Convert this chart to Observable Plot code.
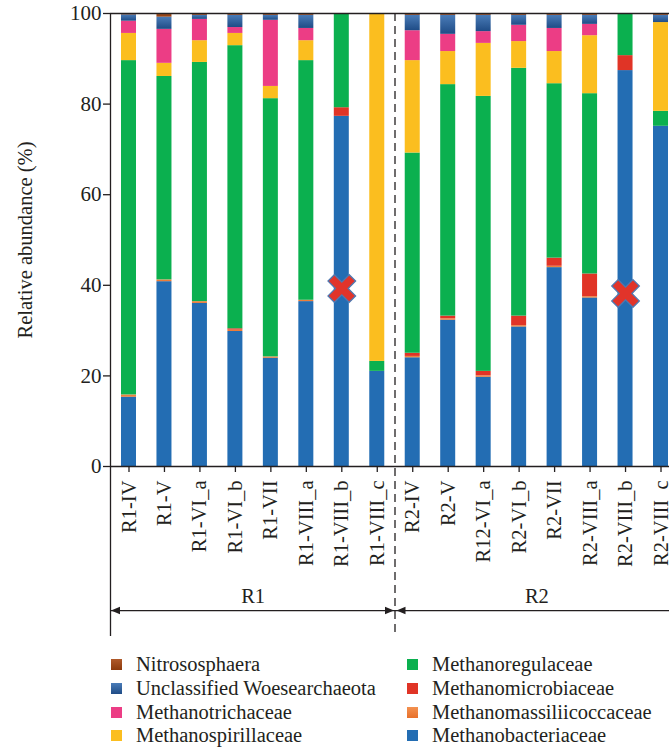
<!DOCTYPE html>
<html><head><meta charset="utf-8">
<script src="https://cdn.jsdelivr.net/npm/d3@7"></script>
<script src="https://cdn.jsdelivr.net/npm/@observablehq/plot@0.6"></script>
<style>
html,body{margin:0;padding:0;background:#fff;overflow:hidden;width:669px;height:748px;position:relative}
#chart svg{display:block;max-width:none !important;width:680px !important;height:650px !important}
.lg{position:absolute;font-family:"Liberation Serif",serif;font-size:20.5px;color:#231f20;line-height:24px;white-space:nowrap}
.lg .sw{position:absolute;left:0;top:6.5px;width:11px;height:11px}
.lg .tx{position:absolute;left:25px;top:0}
</style></head>
<body><div id="chart"></div><div id="legend"></div>
<script>
// ---- data ----
const samples = ["R1-IV","R1-V","R1-VI_a","R1-VI_b","R1-VII","R1-VIII_a","R1-VIII_b","R1-VIII_c",
                 "R2-IV","R2-V","R12-VI_a","R2-VI_b","R2-VII","R2-VIII_a","R2-VIII_b","R2-VIII_c"];
// stack order, bottom to top
const taxa = ["Methanobacteriaceae","Methanomassiliicoccaceae","Methanomicrobiaceae","Methanoregulaceae",
              "Methanospirillaceae","Methanotrichaceae","Unclassified Woesearchaeota","Nitrososphaera"];
const methanobacteriaceae      = [15.3,40.8,36.0,29.8,23.9,36.4,77.3,21.0, 24.0,32.3,19.7,30.8,43.9,37.2,87.4,75.1];
const methanomassiliicoccaceae = [ 0.5, 0.4, 0.4, 0.3, 0.3, 0.3, 0.0, 0.0,  0.3, 0.3, 0.3, 0.3, 0.3, 0.3, 0.0, 0.0];
const methanomicrobiaceae      = [ 0.0, 0.0, 0.0, 0.3, 0.0, 0.0, 1.9, 0.0,  0.7, 0.6, 1.0, 2.1, 1.8, 5.0, 3.3, 0.0];
const methanoregulaceae        = [73.8,44.9,52.8,62.5,57.0,52.9,20.8, 2.2, 44.2,51.1,60.7,54.7,38.5,39.8, 9.3, 3.3];
const methanospirillaceae      = [ 6.0, 2.9, 4.8, 2.7, 2.7, 4.4, 0.0,76.6, 20.4, 7.3,11.7, 5.9, 7.1,12.8, 0.0,19.6];
const methanotrichaceae        = [ 2.7, 7.5, 4.7, 1.3,14.6, 2.7, 0.0, 0.0,  6.6, 3.8, 2.6, 3.6, 5.1, 2.5, 0.0, 0.0];
const woesearchaeota           = [ 1.4, 2.7, 0.9, 2.7, 1.1, 2.9, 0.0, 0.0,  3.4, 4.2, 3.6, 2.2, 2.9, 2.0, 0.0, 1.6];
const nitrososphaera           = [ 0.3, 0.8, 0.4, 0.4, 0.4, 0.4, 0.0, 0.2,  0.4, 0.4, 0.4, 0.4, 0.4, 0.4, 0.0, 0.4];
const series = [methanobacteriaceae, methanomassiliicoccaceae, methanomicrobiaceae, methanoregulaceae,
                methanospirillaceae, methanotrichaceae, woesearchaeota, nitrososphaera];
const yTicks = [0, 20, 40, 60, 80, 100];
const groups = ["R1", "R2"];
const groupCenters = ["R1-VI_b", "R2-VI_b"];
const markedSamples = ["R1-VIII_b", "R2-VIII_b"];
const markedValues = [39.3, 38.2];
const legendLeft = ["Nitrososphaera","Unclassified Woesearchaeota","Methanotrichaceae","Methanospirillaceae"];
const legendRight = ["Methanoregulaceae","Methanomicrobiaceae","Methanomassiliicoccaceae","Methanobacteriaceae"];

// ---- styles ----
const fills = ["#236db3","url(#gOrange)","#e03426","#0bb04f","#fbbe1f","#ec3d85","url(#gWoese)","url(#gBrown)"];
const cssFills = ["#236db3","linear-gradient(#f39150,#e8702a)","#e03426","#0bb04f","#fbbe1f","#ec3d85",
                  "linear-gradient(#4a7cb8,#1f4c86)","linear-gradient(#b05a2a,#8c3a0c)"];
const ink = "#231f20";

const rows = [];
taxa.forEach((t, k) => series[k].forEach((v, i) => rows.push({sample: samples[i], taxon: t, value: v})));

const pIn = 0.577, pOut = 0.31, x0 = 110, x1 = 679;
const step = (x1 - x0) / (samples.length - pIn + 2 * pOut);
const halfToEdge = step * (pOut + (1 - pIn) / 2); // band center to left frame edge

function triangle(dir) {
  return {draw(ctx, size) {
    const r = Math.sqrt(size / Math.PI), h = r * 0.42;
    ctx.moveTo(0, 0); ctx.lineTo(-dir * r, -h); ctx.lineTo(-dir * r, h); ctx.closePath();
  }};
}
const crossSymbol = {draw(ctx, size) {
  const L = Math.sqrt(size / Math.PI), w = 0.3 * L;
  const pts = [[w,-L],[w,-w],[L,-w],[L,w],[w,w],[w,L],[-w,L],[-w,w],[-L,w],[-L,-w],[-w,-w],[-w,-L]]
    .map(([a, b]) => [(a - b) / Math.SQRT2, (a + b) / Math.SQRT2]);
  ctx.moveTo(...pts[0]); for (const p of pts.slice(1)) ctx.lineTo(...p); ctx.closePath();
}};

const plot = Plot.plot({
  width: 680, height: 650,
  marginTop: 13, marginBottom: 184, marginLeft: x0, marginRight: 0,
  style: {fontFamily: '"Liberation Serif", serif', fontSize: "20px", color: ink, background: "transparent", overflow: "visible"},
  x: {domain: samples, range: [x0, x1], paddingInner: pIn, paddingOuter: pOut, round: false, label: null},
  y: {domain: [0, 100], label: null},
  color: {domain: taxa, range: fills},
  marks: [
    Plot.barY(rows, {x: "sample", y: "value", fill: "taxon", order: taxa}),
    Plot.ruleY([0, 100], {stroke: ink, strokeWidth: 1.3}),
    Plot.ruleX([samples[0]], {x: d => d, y1: 100, y2: -37.5, dx: -halfToEdge, stroke: ink, strokeWidth: 1.3}),
    Plot.ruleX([samples[8]], {x: d => d, y1: 100, y2: -37.5, dx: -step / 2, stroke: ink, strokeWidth: 1.3, strokeDasharray: "8 5"}),
    Plot.ruleY([-31.8], {stroke: ink, strokeWidth: 1.3}),
    Plot.dot([samples[0]], {x: d => d, y: -31.8, dx: -halfToEdge + 0.5, r: 9, symbol: triangle(-1), fill: ink, stroke: null}),
    Plot.dot([samples[8]], {x: d => d, y: -31.8, dx: -step / 2 - 1, r: 9, symbol: triangle(1), fill: ink, stroke: null}),
    Plot.dot([samples[8]], {x: d => d, y: -31.8, dx: -step / 2 + 1.5, r: 9, symbol: triangle(-1), fill: ink, stroke: null}),
    Plot.dot([samples[15]], {x: d => d, y: -31.8, dx: step / 2, r: 9, symbol: triangle(1), fill: ink, stroke: null}),
    Plot.text(groups, {x: (d, i) => groupCenters[i], y: -28.7, dx: step / 2, text: d => d, fontSize: 20.5, fill: ink}),
    Plot.dot(markedSamples, {x: d => d, y: (d, i) => markedValues[i], r: 15, symbol: crossSymbol,
      fill: "#e1342a", stroke: "#4f78b0", strokeWidth: 1.3}),
    Plot.axisY({ticks: yTicks, tickSize: 7, tickPadding: 2, fontSize: 21, stroke: ink, strokeWidth: 1.3, label: null}),
    Plot.axisX({tickRotate: -90, tickSize: 6, tickPadding: 8, fontSize: 20.5, stroke: ink, strokeWidth: 1.3, label: null}),
    Plot.text(["Relative abundance (%)"], {frameAnchor: "left", textAnchor: "middle", dx: -85, rotate: -90,
      text: d => d, fontSize: 20.5, fill: ink})
  ]
});

// gradients for the shaded segments
const defs = d3.select(plot).insert("defs", ":first-child");
[["gWoese", "#4a7cb8", "#1f4c86"], ["gBrown", "#b05a2a", "#8c3a0c"], ["gOrange", "#f39150", "#e8702a"]].forEach(([id, a, b]) => {
  const g = defs.append("linearGradient").attr("id", id).attr("x1", 0).attr("y1", 0).attr("x2", 0).attr("y2", 1);
  g.append("stop").attr("offset", "0%").attr("stop-color", a);
  g.append("stop").attr("offset", "100%").attr("stop-color", b);
});
document.getElementById("chart").appendChild(plot);

// legend
const legend = document.getElementById("legend");
const rowTops = [652, 676, 700, 723];
[[legendLeft, 111], [legendRight, 407]].forEach(([names, left]) => {
  names.forEach((name, i) => {
    const el = document.createElement("div");
    el.className = "lg";
    el.style.left = left + "px";
    el.style.top = rowTops[i] + "px";
    const sw = document.createElement("span");
    sw.className = "sw";
    sw.style.background = cssFills[taxa.indexOf(name)];
    const tx = document.createElement("span");
    tx.className = "tx";
    tx.textContent = name;
    el.appendChild(sw); el.appendChild(tx);
    legend.appendChild(el);
  });
});
</script>
</body></html>
